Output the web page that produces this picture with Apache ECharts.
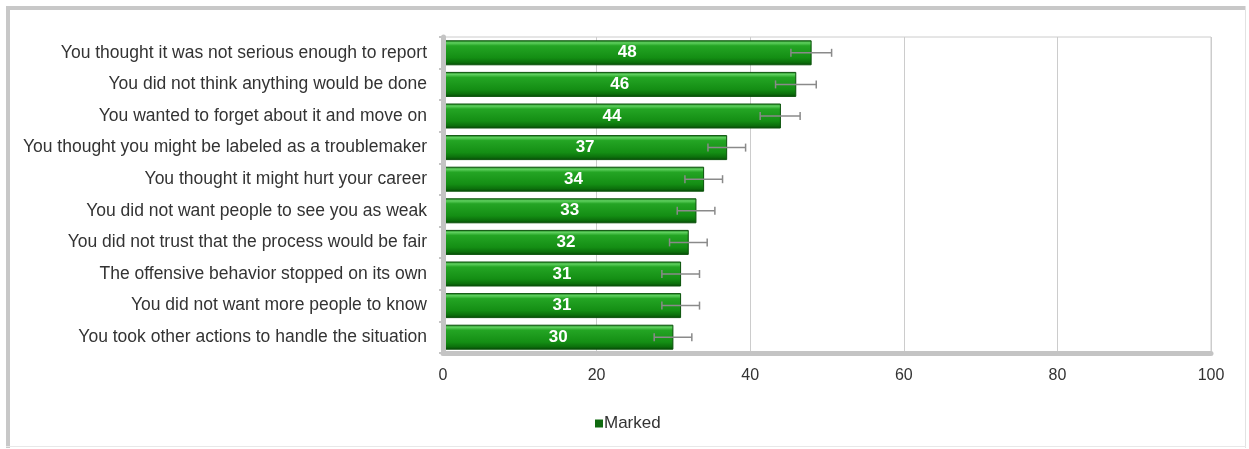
<!DOCTYPE html>
<html>
<head>
<meta charset="utf-8">
<script src="https://cdn.jsdelivr.net/npm/echarts@6/dist/echarts.min.js"></script>
<style>
html,body{margin:0;padding:0;background:#fff;}
#c{width:1249px;height:449px;}
</style>
</head>
<body>
<div id="c"></div>
<script>
const categories = [
  'You thought it was not serious enough to report',
  'You did not think anything would be done',
  'You wanted to forget about it and move on',
  'You thought you might be labeled as a troublemaker',
  'You thought it might hurt your career',
  'You did not want people to see you as weak',
  'You did not trust that the process would be fair',
  'The offensive behavior stopped on its own',
  'You did not want more people to know',
  'You took other actions to handle the situation'
];
const markedValues = [48, 46, 44, 37, 34, 33, 32, 31, 31, 30];
const errorLow = [45.3, 43.3, 41.3, 34.5, 31.5, 30.5, 29.5, 28.5, 28.5, 27.5];
const errorHigh = [50.6, 48.6, 46.5, 39.4, 36.4, 35.4, 34.4, 33.4, 33.4, 32.4];
const xTicks = [0, 20, 40, 60, 80, 100];

const chart = echarts.init(document.getElementById('c'), null, {renderer: 'canvas'});

const barGradient = new echarts.graphic.LinearGradient(0, 0, 0, 1, [
  {offset: 0, color: '#1a7d1a'},
  {offset: 0.1, color: '#5fd05f'},
  {offset: 0.22, color: '#24a524'},
  {offset: 0.7, color: '#148e14'},
  {offset: 0.88, color: '#0c700c'},
  {offset: 1, color: '#064806'}
]);

const errData = categories.map((c, i) => [errorLow[i], errorHigh[i], i]);
const FONT = 'Liberation Sans, Arial, sans-serif';

chart.setOption({
  animation: false,
  backgroundColor: '#ffffff',
  color: ['#117a11'],
  textStyle: {fontFamily: FONT},
  graphic: [
    {type: 'rect', shape: {x: 6, y: 6, width: 1240, height: 4}, style: {fill: '#c8c8c8'}, silent: true},
    {type: 'rect', shape: {x: 6, y: 6, width: 4, height: 442}, style: {fill: '#c8c8c8'}, silent: true},
    {type: 'rect', shape: {x: 1245, y: 6, width: 1, height: 442}, style: {fill: '#e2e2e2'}, silent: true},
    {type: 'rect', shape: {x: 6, y: 446, width: 1240, height: 1}, style: {fill: '#e8e8e8'}, silent: true}
  ],
  grid: {
    left: 443, right: 38, top: 37, bottom: 96,
    show: true, borderColor: '#cccccc', borderWidth: 1, containLabel: false
  },
  legend: {
    data: [{name: 'Marked', itemStyle: {color: '#0f6a0f', borderWidth: 0}}],
    left: 590, top: 410,
    itemWidth: 8, itemHeight: 8, itemGap: 4,
    icon: 'rect',
    textStyle: {fontSize: 17, color: '#333', padding: [0, 0, 0, -4], fontFamily: FONT}
  },
  xAxis: {
    type: 'value', min: 0, max: 100, interval: 20,
    axisLine: {show: true, onZero: false, lineStyle: {color: '#c4c4c4', width: 5}},
    axisTick: {show: false},
    splitLine: {show: true, lineStyle: {color: '#cccccc', width: 1}},
    axisLabel: {
      fontSize: 16, color: '#333', margin: 15, fontFamily: FONT,
      formatter: v => xTicks.includes(v) ? String(v) : ''
    }
  },
  yAxis: {
    type: 'category', data: categories, inverse: true,
    axisLine: {show: true, lineStyle: {color: '#c4c4c4', width: 5}},
    axisTick: {show: true, length: 4, lineStyle: {color: '#c4c4c4', width: 2}},
    splitLine: {show: false},
    axisLabel: {fontSize: 17.5, color: '#333', margin: 16, fontFamily: FONT},
    z: 4
  },
  series: [
    {
      name: 'Marked', type: 'bar', data: markedValues, barWidth: 25,
      itemStyle: {color: barGradient, borderColor: '#0a520a', borderWidth: 1},
      label: {show: true, position: 'inside', color: '#fff', fontWeight: 'bold', fontSize: 17,
        fontFamily: FONT},
      z: 2
    },
    {
      name: 'err', type: 'custom', data: errData,
      encode: {x: [0, 1], y: 2},
      renderItem: function (params, api) {
        const idx = api.value(2);
        const p1 = api.coord([api.value(0), idx]);
        const p2 = api.coord([api.value(1), idx]);
        const h = 4;
        const st = {stroke: '#8a8a8a', lineWidth: 1.5};
        return {type: 'group', children: [
          {type: 'line', shape: {x1: p1[0], y1: p1[1], x2: p2[0], y2: p2[1]}, style: st},
          {type: 'line', shape: {x1: p1[0], y1: p1[1] - h, x2: p1[0], y2: p1[1] + h}, style: st},
          {type: 'line', shape: {x1: p2[0], y1: p2[1] - h, x2: p2[0], y2: p2[1] + h}, style: st}
        ]};
      },
      z: 3, silent: true
    }
  ]
});
</script>
</body>
</html>
